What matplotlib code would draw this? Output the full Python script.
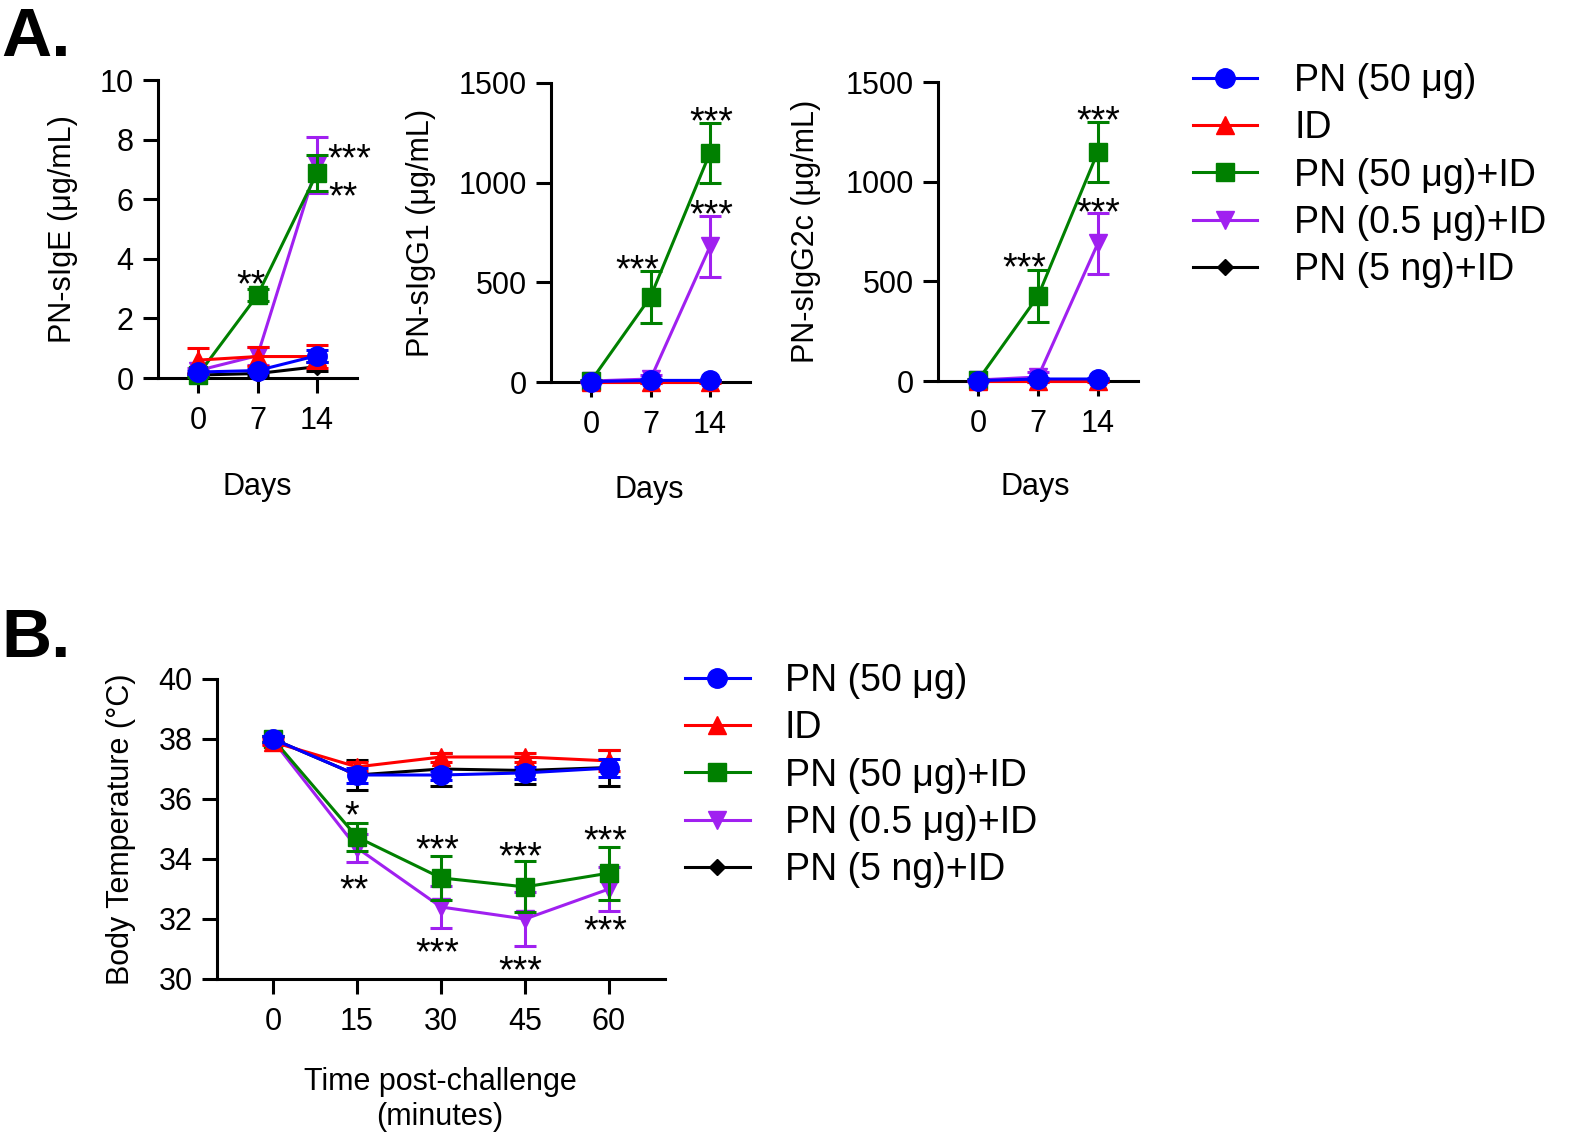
import matplotlib
matplotlib.use("Agg")
import matplotlib.pyplot as plt
from matplotlib.lines import Line2D

plt.rcParams['font.family'] = ['Liberation Sans', 'DejaVu Sans']

W, H = 1573, 1139

# ---------------- data ----------------
series_labels = ["PN (50 μg)", "ID", "PN (50 μg)+ID", "PN (0.5 μg)+ID", "PN (5 ng)+ID"]
series_colors = ["#0000FF", "#FF0000", "#008000", "#A020F0", "#000000"]
series_markers = ["o", "^", "s", "v", "D"]
series_msize = [14, 13, 13, 13, 8]

days = [0, 7, 14]

ige_mean = [[0.2, 0.25, 0.75], [0.6, 0.72, 0.72], [0.1, 2.78, 6.88], [0.25, 0.75, 7.15], [0.1, 0.15, 0.38]]
ige_err = [[0.05, 0.05, 0.2], [0.42, 0.33, 0.4], [0.05, 0.2, 0.6], [0.1, 0.3, 0.95], [0.05, 0.05, 0.15]]

igg1_mean = [[2, 8, 8], [0, 0, 0], [5, 427, 1150], [5, 15, 680], [0, 5, 5]]
igg1_err = [[2, 5, 3], [2, 3, 3], [5, 130, 150], [5, 20, 153], [2, 3, 3]]

igg2c_mean = [[2, 10, 10], [0, 0, 0], [5, 426, 1149], [5, 20, 690], [0, 5, 5]]
igg2c_err = [[2, 5, 3], [2, 3, 3], [5, 130, 151], [5, 25, 155], [2, 3, 3]]

minutes = [0, 15, 30, 45, 60]
temp_mean = [[38.0, 36.8, 36.8, 36.87, 37.03],
             [37.9, 37.07, 37.4, 37.4, 37.27],
             [38.0, 34.73, 33.37, 33.07, 33.53],
             [37.95, 34.37, 32.4, 32.0, 33.0],
             [38.0, 36.8, 37.0, 36.95, 37.05]]
temp_err = [[0.1, 0.25, 0.15, 0.2, 0.3],
            [0.1, 0.15, 0.15, 0.15, 0.35],
            [0.1, 0.47, 0.73, 0.85, 0.88],
            [0.1, 0.47, 0.7, 0.9, 0.73],
            [0.1, 0.5, 0.55, 0.45, 0.6]]

# significance labels: (x, y, text)
ige_sig = [(17.8, 7.7, "***"), (17.1, 6.4, "**"), (6.2, 3.45, "**")]
igg1_sig = [(5.4, 612, "***"), (14.1, 1355, "***"), (14.2, 889, "***")]
igg2c_sig = [(5.4, 617, "***"), (14.0, 1355, "***"), (14.1, 893, "***")]
temp_sig = [(14.1, 35.77, "*"), (14.5, 33.3, "**"),
            (29.3, 34.63, "***"), (29.3, 31.2, "***"),
            (44.1, 34.4, "***"), (44.1, 30.6, "***"),
            (59.3, 34.93, "***"), (59.3, 31.93, "***")]

# ---------------- style ----------------
FS = 22
LW = 2.2
SIGFS = 27
LEGFS = 27

fig = plt.figure(figsize=(W / 100, H / 100), dpi=100)


def make_ax(l, r, t, b):
    return fig.add_axes([l / W, 1 - b / H, (r - l) / W, (b - t) / H])


def style(ax):
    for s in ["top", "right"]:
        ax.spines[s].set_visible(False)
    for s in ["left", "bottom"]:
        ax.spines[s].set_linewidth(LW)
    ax.tick_params(axis="both", which="major", length=10.5, width=LW,
                   labelsize=FS, pad=7, direction="out")
    ax.tick_params(axis="x", pad=10)


def draw_series(ax, x, means, errs):
    order = [4, 3, 2, 1, 0]
    for z, i in enumerate(order):
        ax.errorbar(x, means[i], yerr=errs[i], color=series_colors[i],
                    marker=series_markers[i], ms=series_msize[i], lw=LW,
                    elinewidth=LW, capsize=8, capthick=LW, clip_on=False,
                    zorder=3 + z, mec=series_colors[i])


def draw_sig(ax, sigs):
    for x, y, t in sigs:
        ax.annotate(t, (x, y), xytext=(0, -0.57 * SIGFS), textcoords="offset points",
                    ha="center", va="baseline", fontsize=SIGFS, annotation_clip=False)


# ---------------- panel A ----------------
panelsA = [
    ((158, 357, 80, 378), ige_mean, ige_err, ige_sig, (0, 10), [0, 2, 4, 6, 8, 10],
     "PN-sIgE (μg/mL)", 63, 257, 487),
    ((551, 750, 83, 382), igg1_mean, igg1_err, igg1_sig, (0, 1500), [0, 500, 1000, 1500],
     "PN-sIgG1 (μg/mL)", 421, 649, 490),
    ((938, 1138, 82, 381), igg2c_mean, igg2c_err, igg2c_sig, (0, 1500), [0, 500, 1000, 1500],
     "PN-sIgG2c (μg/mL)", 806, 1035, 487),
]

for box, m, e, sig, ylim, yt, ylabel, ylx, dx, dy in panelsA:
    ax = make_ax(*box)
    style(ax)
    draw_series(ax, days, m, e)
    draw_sig(ax, sig)
    ax.set_xlim(-4.7, 18.7)
    ax.set_ylim(*ylim)
    ax.set_xticks(days)
    ax.set_yticks(yt)
    cy = (box[2] + box[3]) / 2
    fig.text(ylx / W, 1 - cy / H, ylabel, rotation=90, ha="center", va="center", fontsize=FS)
    fig.text(dx / W, 1 - dy / H, "Days", ha="center", va="center", fontsize=FS)

# ---------------- panel B ----------------
axb = make_ax(217, 665, 679, 979)
style(axb)
draw_series(axb, minutes, temp_mean, temp_err)
draw_sig(axb, temp_sig)
axb.set_xlim(-10, 70)
axb.set_ylim(30, 40)
axb.set_xticks(minutes)
axb.set_yticks([30, 32, 34, 36, 38, 40])
fig.text(121 / W, 1 - 829 / H, "Body Temperature (°C)", rotation=90, ha="center", va="center", fontsize=FS)
fig.text(440 / W, 1 - 1082 / H, "Time post-challenge", ha="center", va="center", fontsize=FS)
fig.text(440 / W, 1 - 1117 / H, "(minutes)", ha="center", va="center", fontsize=FS)

# panel letters
fig.text(1 / W, 1 - 56 / H, "A.", ha="left", va="baseline", fontsize=50, fontweight="bold")
fig.text(1 / W, 1 - 657 / H, "B.", ha="left", va="baseline", fontsize=50, fontweight="bold")

# legends
handles = [Line2D([0], [0], color=c, marker=mk, ms=ms, lw=LW, mec=c)
           for c, mk, ms in zip(series_colors, series_markers, series_msize)]
fig.legend(handles, series_labels, loc="upper left", bbox_to_anchor=(1193 / W, 1 - 63 / H),
           frameon=False, fontsize=LEGFS, handlelength=1.7, handletextpad=1.0,
           labelspacing=0.3, borderpad=0, borderaxespad=0)
fig.legend(handles, series_labels, loc="upper left", bbox_to_anchor=(685 / W, 1 - 663 / H),
           frameon=False, fontsize=LEGFS, handlelength=1.73, handletextpad=0.93,
           labelspacing=0.3, borderpad=0, borderaxespad=0)

fig.savefig("out.png", dpi=100)
